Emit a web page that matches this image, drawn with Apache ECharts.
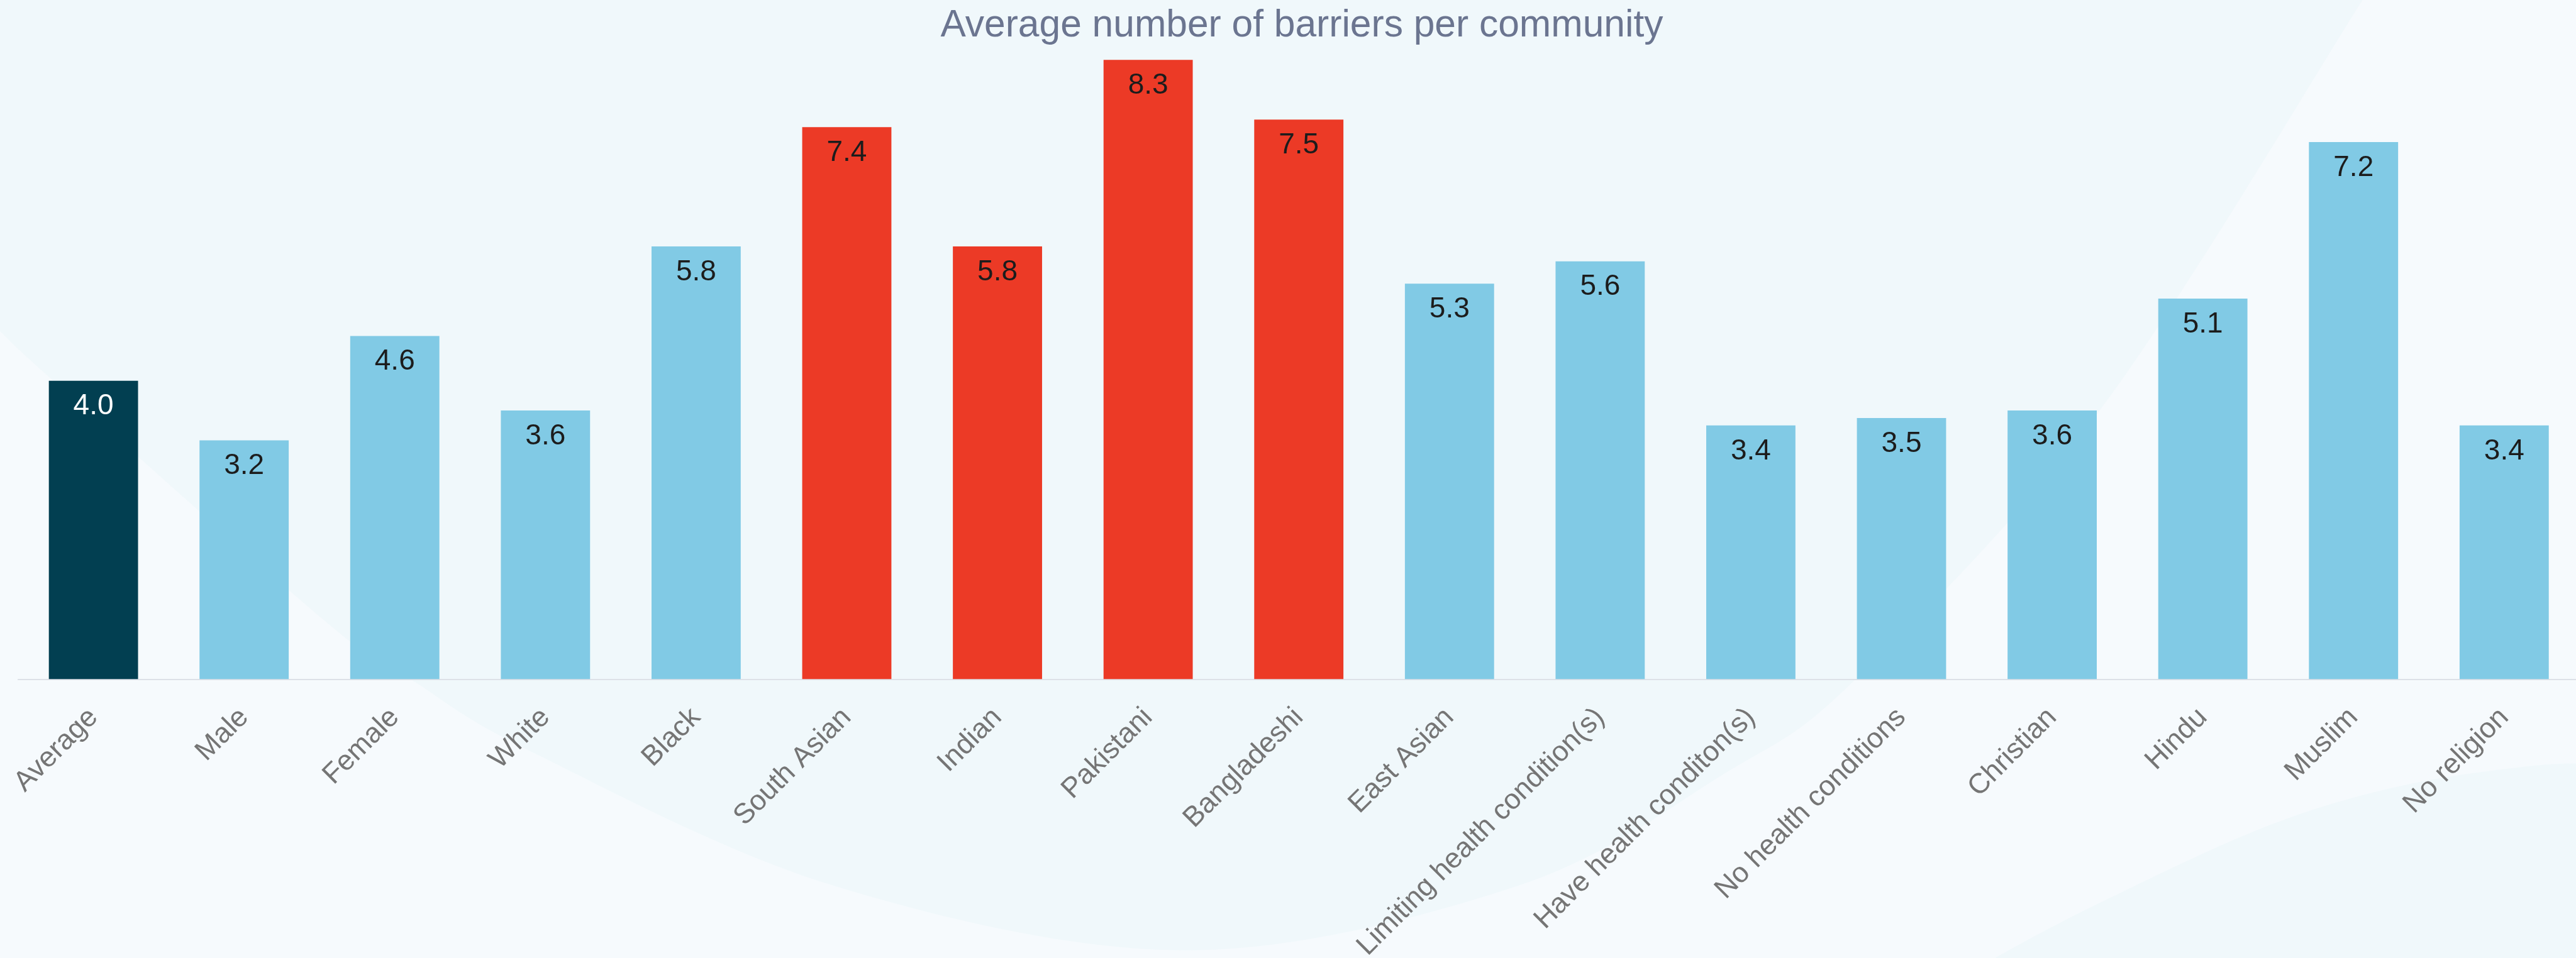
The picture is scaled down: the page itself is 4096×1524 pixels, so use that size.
<!DOCTYPE html>
<html>
<head>
<meta charset="utf-8">
<script src="https://cdn.jsdelivr.net/npm/echarts@6/dist/echarts.min.js"></script>
<style>
  html, body { margin: 0; padding: 0; background: #f6fafd; }
  #chart { width: 4096px; height: 1524px; }
</style>
</head>
<body>
<div id="chart"></div>
<script>
// Community groups and their average number of reported barriers
const categories = [
  'Average', 'Male', 'Female', 'White', 'Black', 'South Asian', 'Indian',
  'Pakistani', 'Bangladeshi', 'East Asian', 'Limiting health condition(s)',
  'Have health conditon(s)', 'No health conditions', 'Christian', 'Hindu',
  'Muslim', 'No religion'
];
const values = [4.0, 3.2, 4.6, 3.6, 5.8, 7.4, 5.8, 8.3, 7.5, 5.3, 5.6, 3.4, 3.5, 3.6, 5.1, 7.2, 3.4];
// which colour group each bar belongs to
const groups = [
  'overall', 'other', 'other', 'other', 'other', 'southAsian', 'southAsian',
  'southAsian', 'southAsian', 'other', 'other', 'other', 'other', 'other',
  'other', 'other', 'other'
];
const titleText = 'Average number of barriers per community';

const S = 0.946; // drawing scale
const groupColor = { overall: '#023f51', southAsian: '#ec3a26', other: '#81cae5' };
const labelColor = { overall: '#ffffff', southAsian: '#1c1c1c', other: '#1c1c1c' };

// Smooth closed background shapes (Catmull-Rom sampled into polygons)
function smoothPoints(pts, steps) {
  const out = [];
  for (let i = 0; i < pts.length - 1; i++) {
    const p0 = pts[i - 1] || pts[i], p1 = pts[i], p2 = pts[i + 1], p3 = pts[i + 2] || pts[i + 1];
    for (let k = 0; k < steps; k++) {
      const t = k / steps, t2 = t * t, t3 = t2 * t;
      const f = (a, b, c, d) => 0.5 * ((2 * b) + (-a + c) * t + (2 * a - 5 * b + 4 * c - d) * t2 + (-a + 3 * b - 3 * c + d) * t3);
      out.push([f(p0[0], p1[0], p2[0], p3[0]) * S, f(p0[1], p1[1], p2[1], p3[1]) * S]);
    }
  }
  const last = pts[pts.length - 1];
  out.push([last[0] * S, last[1] * S]);
  return out;
}
const bigWave = smoothPoints([
  [0, 557], [97, 647], [553, 1050], [696, 1146], [893, 1264], [1400, 1489],
  [1993, 1598], [2550, 1490], [2900, 1300], [3118, 1143], [3530, 689], [3971, 0]
], 24);
bigWave.push([0, 0]);
const cornerWave = smoothPoints([
  [3300, 1650], [3355, 1610], [3538, 1514], [3811, 1389], [4038, 1321], [4266, 1287], [4400, 1285]
], 24);
cornerWave.push([4400 * S, 1700 * S]);

const chart = echarts.init(document.getElementById('chart'), null, { renderer: 'canvas' });

chart.setOption({
  backgroundColor: '#f6fafd',
  animation: false,
  textStyle: { fontFamily: 'Liberation Sans, Arial, Helvetica, sans-serif' },
  graphic: [
    { type: 'polygon', z: -10, silent: true, shape: { points: bigWave }, style: { fill: '#f0f8fb' } },
    { type: 'polygon', z: -10, silent: true, shape: { points: cornerWave }, style: { fill: '#f0f8fb' } }
  ],
  title: {
    text: titleText,
    left: 2065,
    top: 6,
    textAlign: 'center',
    textStyle: {
      fontSize: 60.5,
      fontWeight: 'normal',
      color: '#6b7590',
      fontFamily: 'Liberation Sans, Arial, Helvetica, sans-serif'
    }
  },
  grid: {
    left: 28.8,
    right: -5.6,
    top: 12.3,
    bottom: 443.7,
    containLabel: false,
    outerBoundsMode: 'none'
  },
  xAxis: {
    type: 'category',
    data: categories,
    axisTick: { show: false },
    axisLine: { show: true, lineStyle: { color: '#dde1e7', width: 2 } },
    axisLabel: {
      interval: 0,
      rotate: 45,
      margin: 54,
      fontSize: 45,
      color: '#757575',
      fontFamily: 'Liberation Sans, Arial, Helvetica, sans-serif'
    },
    splitLine: { show: false }
  },
  yAxis: {
    type: 'value',
    min: 0,
    max: 9,
    show: false,
    splitLine: { show: false }
  },
  series: [{
    type: 'bar',
    barWidth: '59.2%',
    z: 2,
    data: values.map((v, i) => ({
      value: v,
      itemStyle: { color: groupColor[groups[i]] },
      label: { color: labelColor[groups[i]] }
    })),
    label: {
      show: true,
      position: 'insideTop',
      distance: 18,
      fontSize: 46,
      fontFamily: 'Liberation Sans, Arial, Helvetica, sans-serif',
      formatter: p => p.value.toFixed(1)
    }
  }]
});
</script>
</body>
</html>
